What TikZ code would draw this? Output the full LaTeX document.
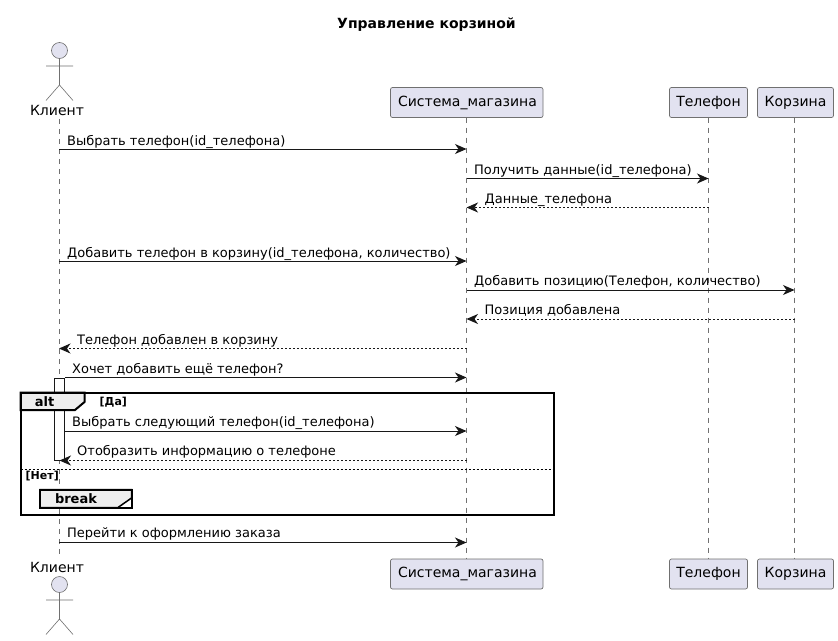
\documentclass[tikz,border=0pt]{standalone}
\usepackage{fontspec}
\setmainfont{DejaVu Sans}
\usetikzlibrary{arrows.meta}
\definecolor{pfill}{HTML}{E2E2F0}
\definecolor{pline}{HTML}{181818}
\definecolor{gline}{HTML}{707070}
\definecolor{hdr}{HTML}{EEEEEE}
\tikzset{
  x=1pt,y=-1pt,
  part/.style={draw=gline,fill=pfill,rounded corners=2pt,line width=0.7pt,minimum height=30pt,inner sep=0pt,font=\fontsize{14}{16}\selectfont},
  lifeline/.style={draw=gline,line width=0.6pt,dash pattern=on 5pt off 5pt},
  actorline/.style={draw=gline,line width=0.6pt},
  msgtext/.style={anchor=base west,inner sep=0pt,font=\fontsize{13}{15}\selectfont,text=black},
  acttext/.style={inner sep=0pt,anchor=base,font=\fontsize{14}{16}\selectfont},
  sync/.style={draw=pline,line width=1pt,-{Stealth[length=11.5pt,width=10pt,inset=3.5pt,fill=pline]}},
  ret/.style={sync,dash pattern=on 2pt off 2pt},
  grp/.style={draw=black,line width=2pt},
  grplab/.style={inner sep=0pt,anchor=base,font=\bfseries\fontsize{13}{15}\selectfont},
  guard/.style={inner sep=0pt,anchor=base west,font=\bfseries\fontsize{11}{13}\selectfont},
}
\newcommand{\actorfig}[2]{% centre x, head centre y
  \draw[actorline,fill=pfill] (#1,#2) circle[radius=8];
  \draw[actorline] (#1,#2+8) -- (#1,#2+34.5)
    (#1-13.5,#2+15.5) -- (#1+13.5,#2+15.5)
    (#1-13.5,#2+50) -- (#1,#2+34.5) -- (#1+13.5,#2+50);
}
\begin{document}
\begin{tikzpicture}
\useasboundingbox (0,0) rectangle (838,640);
\fill[white] (0,0) rectangle (838,640);
\node[inner sep=0pt,anchor=base,font=\bfseries\fontsize{14}{16}\selectfont] (title) at (426.5,28) {Управление корзиной};

% participants
\coordinate (klTop) at (59,119);
\coordinate (klBot) at (59,556);
\node[part,minimum width=152.5pt] (sysT) at (466.75,102.5) {\hspace{1.5pt}Система\_магазина};
\node[part,minimum width=78pt] (telT) at (708.5,102.5) {Телефон};
\node[part,minimum width=76pt] (korT) at (795.5,102.5) {Корзина};
\node[part,minimum width=152.5pt] (sysB) at (466.75,574) {\hspace{1.5pt}Система\_магазина};
\node[part,minimum width=78pt] (telB) at (708.5,574) {Телефон};
\node[part,minimum width=76pt] (korB) at (795.5,574) {Корзина};

% lifelines
\draw[lifeline] (klTop) -- (klBot);
\draw[lifeline] (466,117.5) -- (466,559);
\draw[lifeline] (708,117.5) -- (708,559);
\draw[lifeline] (794,117.5) -- (794,559);

% actors
\actorfig{59.5}{50.5}
\node[acttext] (klT) at (57,115) {Клиент};
\node[acttext] (klB) at (57,572) {Клиент};
\actorfig{59.5}{584.5}

% activation
\draw[draw=pline,fill=white,line width=0.7pt] (54.5,378) rectangle (64.5,460.5);

% lifeline anchors
\foreach \n/\y in {a/149,b/178.5,c/207.5,d/261,e/290,f/319,g/348.5,h/377.5,i/431,j/460.5,k/542.5}{
  \coordinate (kl\n) at (59,\y);
  \coordinate (sy\n) at (466.5,\y);
  \coordinate (te\n) at (708.5,\y);
  \coordinate (ko\n) at (794.5,\y);
}
\coordinate (ach) at (65,377.5);
\coordinate (aci) at (65,431);
\coordinate (acj) at (59.5,460.5);

% messages
\draw[sync] (kla) -- (sya);
\node[msgtext] (m1) at (67,145) {Выбрать телефон(id\_телефона)};
\draw[sync] (syb) -- (teb);
\node[msgtext] (m2) at (474,174) {Получить данные(id\_телефона)};
\draw[ret] (tec) -- (syc);
\node[msgtext] (m3) at (484.5,203) {Данные\_телефона};
\draw[sync] (kld) -- (syd);
\node[msgtext] (m4) at (67,257) {Добавить телефон в корзину(id\_телефона, количество)};
\draw[sync] (sye) -- (koe);
\node[msgtext] (m5) at (474,285) {Добавить позицию(Телефон, количество)};
\draw[ret] (kof) -- (syf);
\node[msgtext] (m6) at (484.5,314.5) {Позиция добавлена};
\draw[ret] (syg) -- (klg);
\node[msgtext] (m7) at (77,344) {Телефон добавлен в корзину};
\draw[sync] (ach) -- (syh);
\node[msgtext] (m8) at (72,373) {Хочет добавить ещё телефон?};
\draw[sync] (aci) -- (syi);
\node[msgtext] (m9) at (72,426) {Выбрать следующий телефон(id\_телефона)};
\draw[ret] (syj) -- (acj);
\node[msgtext] (m10) at (77,455.5) {Отобразить информацию о телефоне};
\draw[sync] (klk) -- (syk);
\node[msgtext] (m11) at (67,537) {Перейти к оформлению заказа};

% alt frame
\draw[grp,fill=hdr] (20.5,392.5) -- (84.5,392.5) -- (84.5,402) -- (75,410) -- (20.5,410) -- cycle;
\draw[grp] (20.5,392.5) rectangle (553.5,514.5);
\node[grplab] (alt) at (44.5,406) {alt};
\node[guard] (da) at (99.5,405) {[Да]};
\draw[draw=black,line width=0.7pt,dash pattern=on 2pt off 2pt] (20.5,469) -- (553.5,469);
\node[guard] (net) at (25.5,479) {[Нет]};
% break frame
\draw[grp,fill=hdr,line width=1.5pt] (40,489.5) -- (131.5,489.5) -- (131.5,498) -- (118,507.5) -- (40,507.5) -- cycle;
\draw[grp] (40,489.5) rectangle (131.5,507.5);
\node[grplab] (brk) at (76,503) {break};
\end{tikzpicture}
\end{document}
